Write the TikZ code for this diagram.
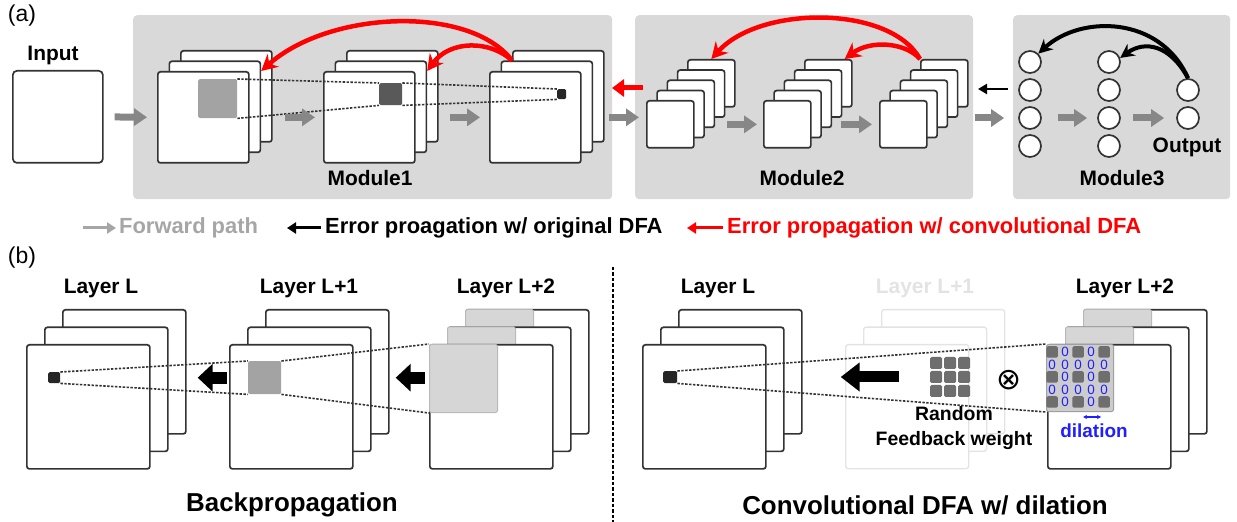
\documentclass[tikz,border=0pt]{standalone}
\usepackage{fontspec}
\setmainfont{Liberation Sans}
\newfontfamily\symfont{DejaVu Sans}
\usetikzlibrary{arrows.meta}

\definecolor{panelgray}{HTML}{D9D9D9}
\definecolor{edgegray}{HTML}{333333}
\definecolor{fwdgray}{HTML}{878787}
\definecolor{leggray}{HTML}{A6A6A6}
\definecolor{fadegray}{HTML}{E3E3E3}
\definecolor{patchgray}{HTML}{A3A3A3}
\definecolor{darkpatch}{HTML}{595959}
\definecolor{cellgray}{HTML}{6E6E6E}
\definecolor{lightpatch}{HTML}{D6D6D6}
\definecolor{dilblue}{HTML}{1F1FFF}

\tikzset{
  panel/.style={fill=panelgray, rounded corners=4bp, inner sep=0pt, anchor=north west},
  fmap/.style={draw=edgegray, fill=white, line width=1.7bp, rounded corners=2.5bp, inner sep=0pt, anchor=north west},
  bigmap/.style={fmap, minimum width=91bp, minimum height=91bp},
  smallmap/.style={fmap, minimum width=47bp, minimum height=47bp},
  layermap/.style={fmap, minimum width=123bp, minimum height=124bp},
  fademap/.style={layermap, draw=fadegray, line width=1.3bp},
  patch/.style={inner sep=0pt, anchor=north west, rounded corners=1.5bp},
  rfpatch/.style={patch, fill=lightpatch, draw=gray!55, line width=1bp, minimum width=68bp, minimum height=68bp},
  wcell/.style={fill=cellgray, rounded corners=1.5bp, inner sep=0pt, minimum size=11.5bp},
  zero/.style={text=dilblue, font=\fontsize{13.5}{13.5}\selectfont, inner sep=0pt},
  neuron/.style={circle, draw=edgegray, fill=white, line width=1.7bp, minimum size=22bp, inner sep=0pt},
  lbl/.style={font=\fontsize{21}{24}\selectfont\bfseries, inner sep=0pt},
  tag/.style={font=\fontsize{23}{26}\selectfont, inner sep=0pt},
  legtxt/.style={font=\fontsize{22}{24}\selectfont\bfseries, inner sep=0pt, anchor=west},
  title/.style={font=\fontsize{26}{30}\selectfont\bfseries, inner sep=0pt},
  fwd/.style={draw=fwdgray, line width=7bp, -{Triangle[length=13bp,width=17bp]}},
  dfa/.style={draw=red, line width=4.5bp, -{Stealth[length=16bp,width=17bp]}},
  odfa/.style={draw=black, line width=4bp, -{Stealth[length=14bp,width=14bp]}},
  legarr/.style={line width=3bp, -{Triangle[length=9bp,width=11bp]}},
  rfield/.style={draw=edgegray, line width=1.6bp, dash pattern=on 2.4bp off 1.5bp},
  blk/.style={draw=black, line width=12bp, -{Triangle[length=15bp,width=27bp]}},
}

\begin{document}
\begin{tikzpicture}[x=1bp, y=-1bp]
\useasboundingbox (0,0) rectangle (1237,522);
% (a) modules
\node[tag] (ta) at (22,16) {(a)};
\node[panel, minimum width=479bp, minimum height=184bp] (p1) at (133,15) {};
\node[panel, minimum width=338bp, minimum height=184bp] (p2) at (635,15) {};
\node[panel, minimum width=217bp, minimum height=184bp] (p3) at (1013,15) {};
\node[lbl] (tin) at (53,55) {Input};
\node[fmap, minimum width=90bp, minimum height=92bp, rounded corners=4bp] (in) at (12,70) {};
% module 1
\node[bigmap] (m1a2) at (180,50) {};
\node[bigmap] (m1a1) at (168.5,60.5) {};
\node[bigmap] (m1a0) at (157,71) {};
\node[patch, fill=patchgray, minimum size=39bp] (pa) at (198,79) {};
\node[bigmap] (m1b2) at (346,50) {};
\node[bigmap] (m1b1) at (334.5,60.5) {};
\node[bigmap] (m1b0) at (323,71) {};
\node[patch, fill=darkpatch, minimum width=23bp, minimum height=22bp] (pb) at (379,83) {};
\node[bigmap] (m1c2) at (512,50) {};
\node[bigmap] (m1c1) at (500.5,60.5) {};
\node[bigmap] (m1c0) at (489,71) {};
\node[patch, fill=black!85, minimum width=9bp, minimum height=10bp] (pc) at (557,89) {};
\draw[rfield] (pa.north east) -- (pb.north west);
\draw[rfield] (pa.south east) -- (pb.south west);
\draw[rfield] (pb.north east) -- (pc.north west);
\draw[rfield] (pb.south east) -- (pc.south west);
\node[lbl] (tm1) at (370,178) {Module1};
% module 2
\foreach \i in {4,3,2,1,0} {
  \node[smallmap] (m2a\i) at (646+10.25*\i, 100-10.25*\i) {};
  \node[smallmap] (m2b\i) at (763+10.25*\i, 100-10.25*\i) {};
  \node[smallmap] (m2c\i) at (879+10.25*\i, 100-10.25*\i) {};
}
\node[lbl] (tm2) at (802,178) {Module2};
% module 3
\foreach \j/\y in {a/62,b/90,c/118,d/146} {
  \node[neuron] (n1\j) at (1030,\y) {};
  \node[neuron] (n2\j) at (1109,\y) {};
}
\node[neuron] (n3a) at (1188,90) {};
\node[neuron] (n3b) at (1188,118) {};
\node[lbl] (tout) at (1187,147) {Output};
\node[lbl] (tm3) at (1122,178) {Module3};
% forward path
\draw[fwd, shorten <=11bp, shorten >=10bp] (in.east) -- (m1a0.west);
\draw[fwd, shorten <=35bp, shorten >=8bp] (m1a0.east) -- (m1b0.west);
\draw[fwd, shorten <=34bp, shorten >=9bp] (m1b0.east) -- (m1c0.west);
\draw[fwd, shorten <=27bp, shorten >=7bp] (m1c0.east) -- (m1c0.east -| m2a0.west);
\draw[fwd, shorten <=32bp, shorten >=6bp] (m2a0.east) -- (m2b0.west);
\draw[fwd, shorten <=29bp, shorten >=7bp] (m2b0.east) -- (m2c0.west);
\draw[fwd, shorten <=47bp, shorten >=14bp] (m2c0.east |- n1c) -- (n1c.west);
\draw[fwd, shorten <=16bp, shorten >=10bp] (n1c.east) -- (n2c.west);
\draw[fwd, shorten <=12bp, shorten >=12bp] (n2c.east) -- (n3b.west);
% error paths
\coordinate (r1) at (m1c2.west |- m1c1.north);
\draw[dfa] (r1) .. controls (470,5) and (330,10) .. (m1a1.east |- m1a0.north);
\draw[dfa] (r1) .. controls (490,40) and (450,40) .. (m1b1.east |- m1b0.north);
\draw[dfa] (m2c4.north west) .. controls (890,5) and (760,5) .. (m2a4.north);
\draw[dfa] (m2c4.north west) .. controls (905,42) and (870,40) .. ([xshift=-8bp]m2b4.north east);
\draw[odfa] (n3a.north) .. controls (1160,15) and (1080,15) .. (n1a.north east);
\draw[odfa] (n3a.north) .. controls (1170,45) and (1145,40) .. (n2a.20);
\coordinate (e21) at (643,88);
\coordinate (e12) at (612,88);
\draw[draw=red, line width=5bp, -{Triangle[length=12bp,width=17bp]}] (e21) -- (e12);
\coordinate (e32) at (1008,89);
\coordinate (e23) at (978,89);
\draw[draw=black, line width=2.5bp, -{Triangle[length=9bp,width=10bp]}] (e32) -- (e23);
% legend
\coordinate (lgfs) at (83,228);
\node[legtxt, text=leggray] (lgf) at (119,228) {Forward path};
\draw[legarr, draw=leggray, shorten >=3bp] (lgfs) -- (lgf.west);
\coordinate (lgoe) at (287,228);
\node[legtxt] (lgo) at (325,228) {Error proagation w/ original DFA};
\draw[legarr, shorten <=4bp] (lgo.west) -- (lgoe);
\coordinate (lgce) at (687,228);
\node[legtxt, text=red] (lgc) at (727,228) {Error propagation w/ convolutional DFA};
\draw[legarr, draw=red, shorten <=4bp] (lgc.west) -- (lgce);
% (b) backpropagation
\node[tag] (tb) at (22,258) {(b)};
\coordinate (dv1) at (613,267);
\coordinate (dv2) at (613,522);
\draw[line width=2bp, dash pattern=on 3.5bp off 2bp] (dv1) -- (dv2);
\node[lbl] (tl1) at (101,288) {Layer L};
\node[lbl] (tl2) at (309,288) {Layer L+1};
\node[lbl] (tl3) at (506,288) {Layer L+2};
\node[layermap] (bl2) at (62,309) {};
\node[layermap] (bl1) at (44,326.5) {};
\node[layermap] (bl0) at (26,344) {};
\node[patch, fill=black!85, minimum width=12bp, minimum height=11bp] (q1) at (48,372) {};
\node[layermap] (bm2) at (265,309) {};
\node[layermap] (bm1) at (247,326.5) {};
\node[layermap] (bm0) at (229,344) {};
\node[patch, fill=patchgray, minimum size=33bp] (q2) at (248,361) {};
\node[layermap] (br2) at (465,309) {};
\node[rfpatch] (q3b) at (465,309) {};
\node[layermap] (br1) at (447,326.5) {};
\node[rfpatch] (q3a) at (447,326.5) {};
\node[layermap] (br0) at (429,344) {};
\node[rfpatch] (q3) at (429,344) {};
\draw[rfield] (q1.north east) -- (q2.north west);
\draw[rfield] (q1.south east) -- (q2.south west);
\draw[rfield] (q2.north east) -- (q3.north west);
\draw[rfield] (q2.south east) -- (q3.south west);
\draw[blk, shorten <=2bp, shorten >=11bp] (q2 -| bm0.west) -- (q2 -| bl2.east);
\draw[blk, shorten <=4bp, shorten >=6bp] (q2 -| br0.west) -- (q2 -| bm2.east);
\node[title] (tbp) at (292,505) {Backpropagation};
% (b) convolutional DFA
\node[lbl] (tr1) at (718,288) {Layer L};
\node[lbl, text=fadegray] (tr2) at (925,288) {Layer L+1};
\node[lbl] (tr3) at (1125,288) {Layer L+2};
\node[layermap] (cl2) at (678,309) {};
\node[layermap] (cl1) at (660,326.5) {};
\node[layermap] (cl0) at (642,344) {};
\node[patch, fill=black!85, minimum width=14bp, minimum height=12bp] (q4) at (663,371) {};
\node[fademap] (cm2) at (881,309) {};
\node[fademap] (cm1) at (863,326.5) {};
\node[fademap] (cm0) at (845,344) {};
\node[layermap] (cr2) at (1083,309) {};
\node[rfpatch] (q5b) at (1083,309) {};
\node[layermap] (cr1) at (1065,326.5) {};
\node[rfpatch] (q5a) at (1065,326.5) {};
\node[layermap] (cr0) at (1047,344) {};
\node[rfpatch, fill=gray!40, draw=gray!75, minimum width=67bp, minimum height=67bp] (q5) at (1046,344) {};
\foreach \r in {0,...,4}
  \foreach \c in {0,...,4} {
    \pgfmathtruncatemacro{\odd}{mod(\r,2)+mod(\c,2)}
    \ifnum\odd=0
      \node[wcell] (d\r\c) at (1052+13*\c, 352+12.5*\r) {};
    \else
      \node[zero] (d\r\c) at (1052+13*\c, 352+12.5*\r) {0};
    \fi
  }
\foreach \r in {1,2,3}
  \foreach \c in {1,2,3}
    \node[wcell, minimum size=12bp] (w\r\c) at (922+14*\c, 349+14*\r) {};
\draw[rfield] (q4.north east) -- (q5.north west);
\draw[rfield] (q4.south east) -- (q5.south west);
\draw[blk, line width=11bp, -{Triangle[length=19bp,width=28bp]}, shorten <=31bp, shorten >=38bp] (w21.west) -- (w21 -| cl2.east);
\node[font=\symfont\fontsize{30}{30}\selectfont, inner sep=0pt] (ox) at (1009,380) {⊗};
\node[lbl, font=\fontsize{19.5}{25}\selectfont\bfseries, align=center] (tfb) at (954,428) {Random\\Feedback weight};
\coordinate (dla) at (1083,417);
\coordinate (dlb) at (1101,417);
\draw[dilblue, line width=1.2bp, {Stealth[length=4bp,width=4bp]}-{Stealth[length=4bp,width=4bp]}] (dla) -- (dlb);
\node[lbl, text=dilblue, font=\fontsize{19}{22}\selectfont\bfseries] (tdil) at (1094,431) {dilation};
\node[title] (tcd) at (925,505) {Convolutional DFA w/ dilation};
\end{tikzpicture}
\end{document}
